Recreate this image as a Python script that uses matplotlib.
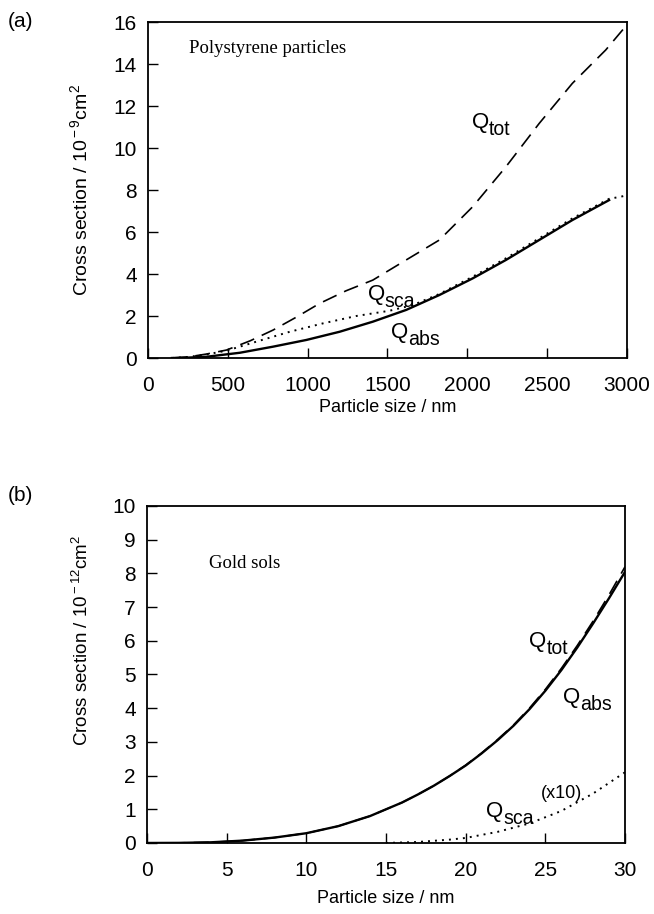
import matplotlib
matplotlib.use("Agg")
import matplotlib.pyplot as plt
from matplotlib.ticker import MultipleLocator
from matplotlib.transforms import offset_copy

# ---- Panel (a): polystyrene particles (x 1e-9 cm^2) ----
ps_size_tot = [150, 250, 367, 492, 640, 783, 930, 1075, 1240, 1408, 1617, 1825, 2033, 2242, 2450, 2658, 2867, 2981, 3000]
ps_tot      = [0.0, 0.05, 0.19, 0.38, 0.82, 1.33, 1.95, 2.6, 3.2, 3.71, 4.67, 5.62, 7.2, 9.11, 11.17, 13.08, 14.67, 15.7, 15.85]

ps_size_abs = [150, 250, 367, 575, 783, 992, 1200, 1408, 1617, 1825, 2033, 2242, 2450, 2658, 2888]
ps_abs      = [0.0, 0.02, 0.06, 0.25, 0.54, 0.86, 1.25, 1.73, 2.29, 3.0, 3.79, 4.67, 5.62, 6.57, 7.52]

ps_size_sca = [150, 250, 367, 492, 679, 888, 1096, 1304, 1512, 1658, 1825, 2033, 2242, 2450, 2658, 2888, 2960, 3000]
ps_sca      = [0.0, 0.05, 0.17, 0.35, 0.78, 1.25, 1.65, 2.0, 2.25, 2.52, 3.05, 3.87, 4.75, 5.7, 6.65, 7.58, 7.68, 7.75]

# ---- Panel (b): gold sols (x 1e-12 cm^2) ----
au_size = [0, 2, 4, 6, 8, 10, 12, 14, 16, 17, 18, 19, 20, 21, 22, 23, 24, 25, 26, 27, 28, 29, 30]
au_abs  = [0.0, 0.003, 0.02, 0.07, 0.16, 0.29, 0.5, 0.8, 1.2, 1.44, 1.7, 1.99, 2.3, 2.66, 3.05, 3.48, 3.97, 4.52, 5.13, 5.8, 6.52, 7.27, 8.05]
au_tot  = [0.0, 0.003, 0.02, 0.07, 0.16, 0.29, 0.5, 0.8, 1.2, 1.44, 1.7, 1.99, 2.31, 2.67, 3.07, 3.5, 4.0, 4.56, 5.18, 5.86, 6.59, 7.37, 8.2]

au_size_sca = [15, 17, 19, 20, 22, 24, 26, 28, 30]
au_sca10    = [0.0, 0.03, 0.1, 0.15, 0.33, 0.58, 0.95, 1.47, 2.1]

sans = ["Liberation Sans", "DejaVu Sans"]
serif = ["Liberation Serif", "DejaVu Serif"]
plt.rcParams['font.family'] = sans
plt.rcParams['mathtext.fontset'] = 'custom'
plt.rcParams['mathtext.rm'] = 'Liberation Sans'
plt.rcParams['mathtext.it'] = 'Liberation Sans:italic'
plt.rcParams['mathtext.bf'] = 'Liberation Sans:bold'

fig = plt.figure(figsize=(6.54, 9.14), dpi=100)

def style(ax):
    for s in ax.spines.values():
        s.set_linewidth(1.3)
    ax.tick_params(direction='in', length=7, width=1, labelsize=15,
                   top=False, right=False)
    ax.tick_params(axis='y', pad=8)
    ax.tick_params(axis='x', pad=13)

def qlabel(ax, x, y, sub, fs=16):
    ax.text(x, y, "Q", fontsize=fs, ha='left', va='baseline')
    tr = offset_copy(ax.transData, fig=fig, x=0.76 * fs, y=-0.3 * fs, units='points')
    ax.text(x, y, sub, transform=tr, fontsize=fs * 0.88, ha='left', va='baseline')

# Panel (a)
ax1 = fig.add_axes([0.2263, 0.6083, 0.7324, 0.3676])
ax1.plot(ps_size_tot, ps_tot, color='black', lw=1.2, dashes=(9, 5))
ax1.plot(ps_size_sca, ps_sca, color='black', lw=1.4, dashes=(1, 2.6))
ax1.plot(ps_size_abs, ps_abs, color='black', lw=1.7)
ax1.set_xlim(0, 3000)
ax1.set_ylim(0, 16)
ax1.xaxis.set_major_locator(MultipleLocator(500))
ax1.yaxis.set_major_locator(MultipleLocator(2))
style(ax1)
ax1.set_xlabel("Particle size / nm", fontsize=13, labelpad=3)
ax1.set_ylabel(r"Cross section / 10$^{\rm -9}$cm$^{\rm 2}$", fontsize=14, labelpad=16)
ax1.text(0.085, 0.92, "Polystyrene particles", transform=ax1.transAxes,
         family=serif, fontsize=13.5, va='center', ha='left')
qlabel(ax1, 2031, 10.95, "tot")
qlabel(ax1, 1375, 2.76, "sca")
qlabel(ax1, 1525, 0.95, "abs")
fig.text(0.012, 0.976, "(a)", fontsize=15, ha='left', va='center')

# Panel (b)
ax2 = fig.add_axes([0.2248, 0.0777, 0.7310, 0.3687])
ax2.plot(au_size, au_tot, color='black', lw=1.2, dashes=(9, 5))
ax2.plot(au_size, au_abs, color='black', lw=1.7)
ax2.plot(au_size_sca, au_sca10, color='black', lw=1.4, dashes=(1, 2.6))
ax2.set_xlim(0, 30)
ax2.set_ylim(0, 10)
ax2.xaxis.set_major_locator(MultipleLocator(5))
ax2.yaxis.set_major_locator(MultipleLocator(1))
style(ax2)
ax2.set_xlabel("Particle size / nm", fontsize=13, labelpad=7)
ax2.set_ylabel(r"Cross section / 10$^{\rm -12}$cm$^{\rm 2}$", fontsize=13.5)
ax2.yaxis.set_label_coords(-0.115, 0.60)
ax2.text(0.13, 0.83, "Gold sols", transform=ax2.transAxes,
         family=serif, fontsize=13.5, va='center', ha='left')
qlabel(ax2, 24.0, 5.82, "tot")
qlabel(ax2, 26.1, 4.15, "abs")
ax2.text(24.7, 1.34, "(x10)", fontsize=13, ha='left', va='baseline')
qlabel(ax2, 21.3, 0.77, "sca")
fig.text(0.012, 0.458, "(b)", fontsize=15, ha='left', va='center')

fig.savefig("out.png", dpi=100)
